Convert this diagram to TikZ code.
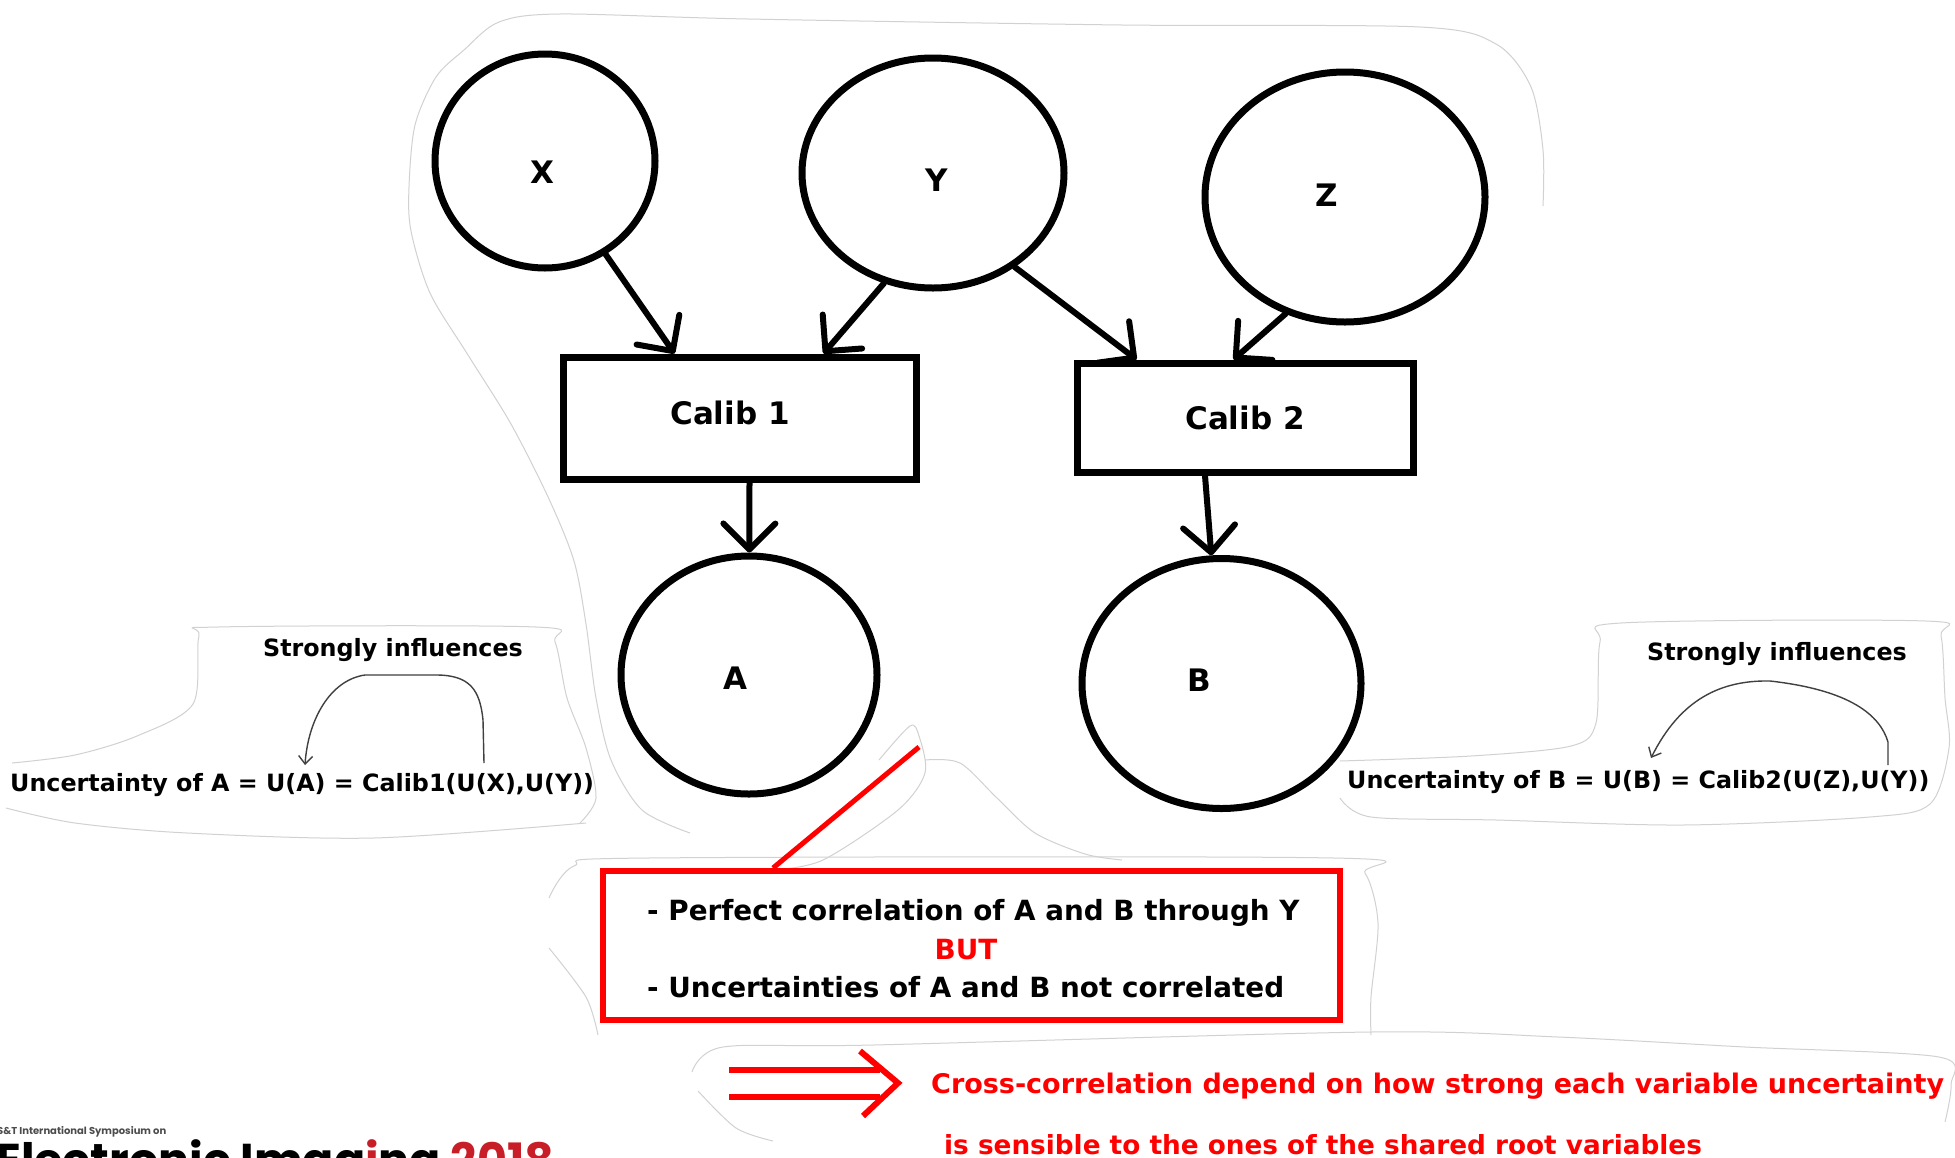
\documentclass[tikz,border=0pt]{standalone}
\usepackage{fontspec}
\setmainfont{DejaVu Sans}
\newfontfamily\logofont{Poppins}
\usetikzlibrary{arrows.meta,shapes.geometric,calc}
\definecolor{logored}{RGB}{200,30,40}
\begin{document}
\begin{tikzpicture}[x=1pt,y=-1pt,
  circ/.style={draw, line width=7pt, ellipse, inner sep=0pt},
  boxnode/.style={draw, line width=7pt, rectangle, inner sep=0pt},
  lbl/.style={font=\fontsize{31}{37}\selectfont\bfseries, inner sep=0pt, text depth=0pt},
  arr/.style={line width=6pt, line cap=round, -{Straight Barb[length=26pt,width=52pt,round]}},
  smalltxt/.style={font=\fontsize{23.8}{28}\selectfont\bfseries, inner sep=0pt, text depth=0pt},
  boxtxt/.style={font=\fontsize{27.8}{32}\selectfont\bfseries, inner sep=0pt, text depth=0pt},
  redtxt/.style={font=\fontsize{27}{32}\selectfont\bfseries, text=red, inner sep=0pt, text depth=0pt},
  thinarr/.style={line width=1.4pt, draw=black!75, -{Straight Barb[length=8pt,width=14pt]}},
  redline/.style={draw=red, line width=6pt},
  faint/.style={draw=black!18, line width=1pt}
]
\useasboundingbox (0,0) rectangle (1955,1157);
\fill[white] (0,0) rectangle (1955,1157);

% faint outlines of the pasted background
\draw[faint] plot[smooth] coordinates {(1543,206) (1543,150) (1531,87) (1496,44) (1420,27) (1122,25) (748,19) (560,14) (499,22) (464,50) (436,77) (415,125) (409,187) (411,231) (430,293) (468,355) (511,424) (549,499) (574,561) (586,624) (596,698) (611,760) (642,810) (690,833)};
\draw[faint] plot[smooth] coordinates {(879,760) (910,726) (919,736) (925,773) (898,810) (823,860) (773,870)};
\draw[faint] plot[smooth] coordinates {(925,760) (960,763) (997,798) (1035,833) (1085,854) (1122,860)};
\draw[faint] plot[smooth] coordinates {(12,763) (75,755) (137,736) (193,704) (199,636) (218,627) (536,627) (555,642) (567,698) (586,748) (596,798) (580,823)};
\draw[faint] plot[smooth] coordinates {(586,823) (374,838) (187,833) (75,823) (6,808)};
\draw[faint] plot[smooth] coordinates {(1340,761) (1471,756) (1571,746) (1596,723) (1600,642) (1621,623) (1926,621) (1941,636) (1945,698) (1949,748) (1930,804) (1870,817) (1683,825) (1496,820) (1371,817) (1340,798)};
\draw[faint] plot[smooth] coordinates {(549,898) (574,866) (648,858) (1334,858) (1365,873) (1378,923) (1371,997) (1371,1035)};
\draw[faint] plot[smooth] coordinates {(549,948) (586,997) (598,1035)};
\draw[faint] plot[smooth] coordinates {(692,1072) (723,1047) (873,1045) (1371,1032) (1558,1037) (1745,1047) (1939,1057) (1951,1085) (1945,1122)};
\draw[faint] plot[smooth] coordinates {(698,1091) (736,1128) (773,1141)};

% main nodes
\node[circ, minimum width=220pt, minimum height=214pt] (X) at (545,161) {};
\node[circ, minimum width=262pt, minimum height=230pt] (Y) at (933,173) {};
\node[circ, minimum width=280pt, minimum height=250pt] (Z) at (1345,197) {};
\node[boxnode, minimum width=353pt, minimum height=122pt] (C1) at (739.5,418) {};
\node[boxnode, minimum width=336pt, minimum height=109pt] (C2) at (1245,417.5) {};
\node[circ, minimum width=256pt, minimum height=238pt] (A) at (749,675) {};
\node[circ, minimum width=279pt, minimum height=250pt] (B) at (1221.5,683.5) {};

% labels
\node[lbl] (Xt) at (542,172) {X};
\node[lbl] (Yt) at (937,180) {Y};
\node[lbl] (Zt) at (1327,195) {Z};
\node[lbl] (C1t) at (730,413) {Calib 1};
\node[lbl] (C2t) at (1245,418) {Calib 2};
\node[lbl] (At) at (735,678) {A};
\node[lbl] (Bt) at (1199,680) {B};

% connectors
\draw[arr] (X.-57) -- ([xshift=115pt]C1.north west);
\draw[arr] (Y.-114) -- ([xshift=264pt]C1.north west);
\draw[arr] (Y.-49) -- ([xshift=63pt]C2.north west);
\draw[arr] (Z.-117) -- ([xshift=160pt]C2.north west);
\draw[arr] ([xshift=10pt]C1.south) -- (A);
\draw[arr] ([xshift=-40pt]C2.south) -- (B);

% side annotations
\node[smalltxt] (s1) at (393,647) {Strongly influences};
\node[smalltxt] (s2) at (1777,651) {Strongly influences};
\node[smalltxt, anchor=west] (u1) at (10,782) {Uncertainty of A = U(A) = Calib1(U(X),U(Y))};
\node[smalltxt, anchor=west] (u2) at (1347,779) {Uncertainty of B = U(B) = Calib2(U(Z),U(Y))};

\coordinate (l1) at (484,763);
\coordinate (l2) at (305,765);
\draw[thinarr] (l1) -- (483,720) .. controls (480,690) and (470,675) .. (436,675) -- (365,675) .. controls (330,680) and (308,720) .. (l2);
\coordinate (r1) at (1888,765);
\coordinate (r2) at (1651,758);
\draw[thinarr] (r1) -- (1888,742) .. controls (1880,715) and (1850,690) .. (1770,681) .. controls (1720,680) and (1680,700) .. (r2);

% red box
\node[draw=red, line width=6pt, minimum width=737pt, minimum height=149pt, inner sep=0pt] (R) at (971.5,945.5) {};
\node[boxtxt, anchor=west] (R1) at (647,910) {- Perfect correlation of A and B through Y};
\node[boxtxt, text=red] (R2) at (966,949) {BUT};
\node[boxtxt, anchor=west] (R3) at (647,987) {- Uncertainties of A and B not correlated};
\coordinate (rp) at (919,747);
\draw[draw=red, line width=5pt] ([xshift=173pt]R.north west) -- (rp);

% conclusion
\draw[redline] (729,1070) -- (880,1070);
\draw[redline] (729,1097) -- (880,1097);
\draw[redline] (860,1051) -- (898,1083) -- (863,1116);
\node[redtxt, anchor=west] (b1) at (931,1083) {Cross-correlation depend on how strong each variable uncertainty};
\node[redtxt, anchor=west, font=\fontsize{26.3}{31}\selectfont\bfseries] (b2) at (944,1144) {is sensible to the ones of the shared root variables};

% logo (cut off at the bottom, as in the reference)
\node[anchor=base west, font=\logofont\fontsize{10}{11}\selectfont\bfseries, text=black!70, inner sep=0pt] (lg1) at (-6,1134) {IS\&T International Symposium on};
\node[anchor=base west, font=\logofont\fontsize{46}{48}\selectfont\bfseries, inner sep=0pt] (lg2) at (-4,1176) {Electronic Imag{\color{logored}i}ng \textcolor{logored}{2018}};
\end{tikzpicture}
\end{document}
